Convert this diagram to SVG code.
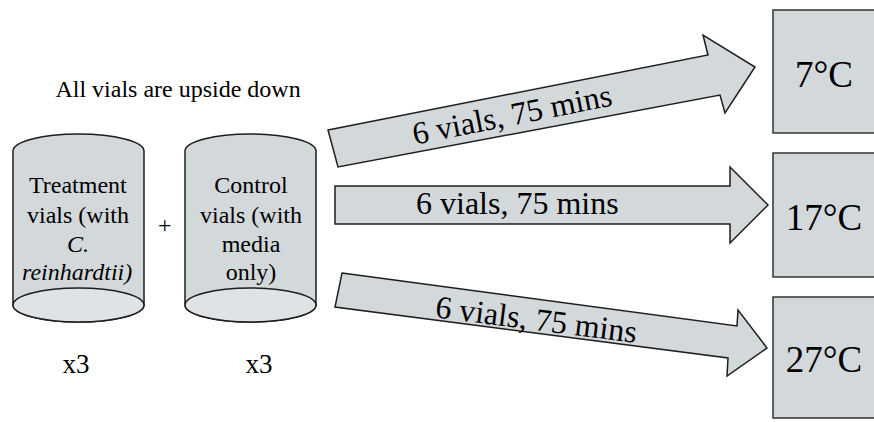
<svg xmlns="http://www.w3.org/2000/svg" width="874" height="422" viewBox="0 0 874 422" font-family="Liberation Serif, serif">
  <style>
    .shape { fill: #d3d8db; stroke: #1e1e1e; stroke-width: 1.5; }
    .base { fill: #e0e3e5; stroke: #1e1e1e; stroke-width: 1.5; }
    .box { fill: #d3d8db; stroke: #333; stroke-width: 1.5; }
  </style>

  <text font-family="Liberation Serif" font-size="24" x="55.4" y="97">All vials are upside down</text>

  <!-- treatment vials -->
  <g id="treatment">
    <path class="shape" d="M13,151 A65.5,17 0 0 1 144,151 V305 A65.5,17 0 0 1 13,305 Z"/>
    <ellipse class="base" cx="78.5" cy="305" rx="65.5" ry="17"/>
    <text font-family="Liberation Serif" font-size="24" x="29" y="193">Treatment</text>
    <text font-family="Liberation Serif" font-size="24" x="27" y="223">vials (with</text>
    <text font-family="Liberation Serif" font-size="24" x="67" y="252" font-style="italic">C.</text>
    <text font-family="Liberation Serif" font-size="24" x="22" y="280" font-style="italic">reinhardtii)</text>
  </g>

  <text font-family="Liberation Serif" font-size="24" x="158" y="233">+</text>

  <!-- control vials -->
  <g id="control">
    <path class="shape" d="M185,151 A65.5,17 0 0 1 316,151 V305 A65.5,17 0 0 1 185,305 Z"/>
    <ellipse class="base" cx="250.5" cy="305" rx="65.5" ry="17"/>
    <text font-family="Liberation Serif" font-size="24" x="214.3" y="193">Control</text>
    <text font-family="Liberation Serif" font-size="24" x="200" y="223">vials (with</text>
    <text font-family="Liberation Serif" font-size="24" x="221.7" y="252">media</text>
    <text font-family="Liberation Serif" font-size="24" x="225.7" y="280">only)</text>
  </g>

  <text font-family="Liberation Serif" font-size="27" x="62.5" y="373">x3</text>
  <text font-family="Liberation Serif" font-size="27" x="245.5" y="373">x3</text>

  <!-- transfer arrows -->
  <g id="connectors">
    <g id="arrow-7">
      <path class="shape" d="M328,130 L708,55 L703,35 L755,67 L725,113 L720,95 L338,167 Z"/>
      <text font-family="Liberation Serif" font-size="32" x="-101.3" y="0" transform="translate(514,125) rotate(-11.2)">6 vials, 75 mins</text>
    </g>
    <g id="arrow-17">
      <path class="shape" d="M335,186 H730 V167 L768,205 L730,243 V224 H335 Z"/>
      <text font-family="Liberation Serif" font-size="32" x="416" y="214">6 vials, 75 mins</text>
    </g>
    <g id="arrow-27">
      <path class="shape" d="M342,273 L737,326 L738,310 L767,348 L727,376 L728,358 L335,307 Z"/>
      <text font-family="Liberation Serif" font-size="32" x="-101.3" y="0" transform="translate(535,330) rotate(7.2)">6 vials, 75 mins</text>
    </g>
  </g>

  <!-- incubation temperatures -->
  <g id="temp-7">
    <rect class="box" x="773" y="10" width="110" height="123"/>
    <text font-family="Liberation Serif" font-size="37" x="795" y="87">7°C</text>
  </g>
  <g id="temp-17">
    <rect class="box" x="773" y="153" width="110" height="124"/>
    <text font-family="Liberation Serif" font-size="37" x="785.8" y="230">17°C</text>
  </g>
  <g id="temp-27">
    <rect class="box" x="773" y="297" width="110" height="121"/>
    <text font-family="Liberation Serif" font-size="37" x="785.8" y="372">27°C</text>
  </g>
</svg>
